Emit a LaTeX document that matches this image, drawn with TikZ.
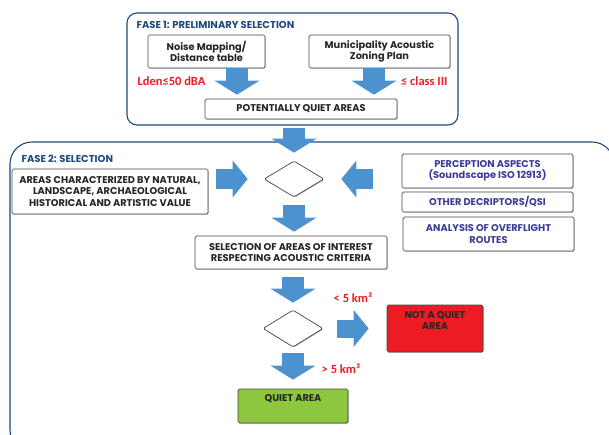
\documentclass[tikz,border=0pt]{standalone}
\usepackage{fontspec}
\setmainfont{Poppins}
\newfontfamily\redfont{Carlito}
\usetikzlibrary{arrows.meta,shapes.geometric,shadows}

\definecolor{faseblue}{RGB}{31,73,125}
\definecolor{boxtext}{RGB}{38,38,38}
\definecolor{boxgray}{RGB}{70,70,70}
\definecolor{aspectblue}{RGB}{60,60,150}
\definecolor{labelred}{RGB}{237,28,36}
\definecolor{arrowblue}{RGB}{76,146,206}
\definecolor{diamondblue}{RGB}{58,124,190}
\definecolor{quietgreen}{RGB}{141,198,63}

\tikzset{
  box/.style={draw=boxgray, line width=0.7pt, rounded corners=1.5pt, fill=white,
    align=center, inner sep=1pt, text=boxtext,
    font=\bfseries\fontsize{9.8}{11.3}\selectfont,
    drop shadow={shadow xshift=0.7pt, shadow yshift=-0.7pt, fill=black!50, opacity=0.6}},
  aspect/.style={box, text=aspectblue},
  decision/.style={diamond, draw=diamondblue, line width=0.5pt, inner sep=0pt, aspect=1.67},
  fase/.style={draw=faseblue, line width=1.1pt},
  faselabel/.style={anchor=west, text=faseblue, font=\bfseries\fontsize{10}{11}\selectfont},
  redlabel/.style={text=labelred, font=\redfont\bfseries\fontsize{12.5}{13}\selectfont},
  fatarrow/.style={line width=22pt, draw=arrowblue,
    -{Triangle[length=14pt,width=45pt,line width=0pt]}},
  sidearrow/.style={line width=20pt, draw=arrowblue,
    -{Triangle[length=15pt,width=37pt,line width=0pt]}}
}

\begin{document}
\begin{tikzpicture}[x=1pt,y=-1pt]
  \path[use as bounding box, clip] (0,0) rectangle (609,434);

  % the two phases
  \draw[fase, rounded corners=10pt] (127,13) rectangle (458,125);
  \draw[fase, rounded corners=22pt] (10,142) rectangle (614,452);
  \node[faselabel] (f1) at (133,25) {FASE 1: PRELIMINARY SELECTION};
  \node[faselabel] (f2) at (18,159) {FASE 2: SELECTION};

  % fase 1
  \node[box, minimum width=117pt, minimum height=33pt] (noise) at (206.5,51.5)
    {Noise Mapping/\\Distance table};
  \node[box, minimum width=141pt, minimum height=33pt] (munic) at (379.5,51.5)
    {Municipality Acoustic\\Zoning Plan};
  \node[box, minimum width=192pt, minimum height=20pt] (pqa) at (301,109)
    {POTENTIALLY QUIET AREAS};
  \node[redlabel, anchor=west] (lden) at (134,81) {Lden≤50 dBA};
  \node[redlabel, anchor=east] (cls) at (451,81) {≤ class III};

  % fase 2
  \node[box, minimum width=196pt, minimum height=45pt] (areas) at (110,191.5)
    {AREAS CHARACTERIZED BY NATURAL,\\LANDSCAPE, ARCHAEOLOGICAL\\HISTORICAL AND ARTISTIC VALUE};
  \node[decision, minimum width=60pt, minimum height=36pt] (d1) at (294,179) {};
  \node[aspect, minimum width=171pt, minimum height=34pt] (percep) at (487.5,171)
    {PERCEPTION ASPECTS\\(Soundscape ISO 12913)};
  \node[aspect, minimum width=171pt, minimum height=20pt] (other) at (487.5,202)
    {OTHER DECRIPTORS/QSI};
  \node[aspect, minimum width=171pt, minimum height=34pt] (overfl) at (488.5,234)
    {ANALYSIS OF OVERFLIGHT\\ROUTES};
  \node[box, minimum width=192pt, minimum height=33pt] (sel) at (291,252.5)
    {SELECTION OF AREAS OF INTEREST\\RESPECTING ACOUSTIC CRITERIA};
  \node[decision, minimum width=60pt, minimum height=37pt] (d2) at (293,328.5) {};
  \node[box, fill=labelred, minimum width=96pt, minimum height=47pt] (notq) at (435,328.5)
    {NOT A QUIET\\AREA\\[5pt]};
  \node[box, fill=quietgreen, minimum width=110pt, minimum height=34pt] (quiet) at (293,406)
    {QUIET AREA\\[4pt]};
  \node[redlabel] (lt5) at (353,298) {< 5 km²};
  \node[redlabel] (gt5) at (341,369) {> 5 km²};

  % block arrows
  \draw[fatarrow] ([xshift=30.5pt]noise.south) -- ([xshift=-64pt,yshift=4pt]pqa.north);
  \draw[fatarrow] ([xshift=-5.5pt]munic.south) -- ([xshift=73pt,yshift=4pt]pqa.north);
  \draw[fatarrow] ([yshift=-9pt]pqa.south -| d1.north) -- ([yshift=8pt]d1.north);
  \draw[sidearrow] ([xshift=8pt]areas.east |- d1.west) -- ([xshift=-16pt]d1.west);
  \draw[sidearrow] ([xshift=-29pt]percep.west |- d1.east) -- ([xshift=17pt]d1.east);
  \draw[fatarrow] ([yshift=-8pt]d1.south) -- ([yshift=4pt]sel.north -| d1.south);
  \draw[fatarrow] ([yshift=-8pt]sel.south -| d2.north) -- ([yshift=7pt]d2.north);
  \draw[sidearrow, line width=18pt] ([xshift=14pt]d2.east) -- ([xshift=-18pt]notq.west);
  \draw[fatarrow] ([yshift=-6pt]d2.south) -- ([yshift=9pt]quiet.north);
\end{tikzpicture}
\end{document}
